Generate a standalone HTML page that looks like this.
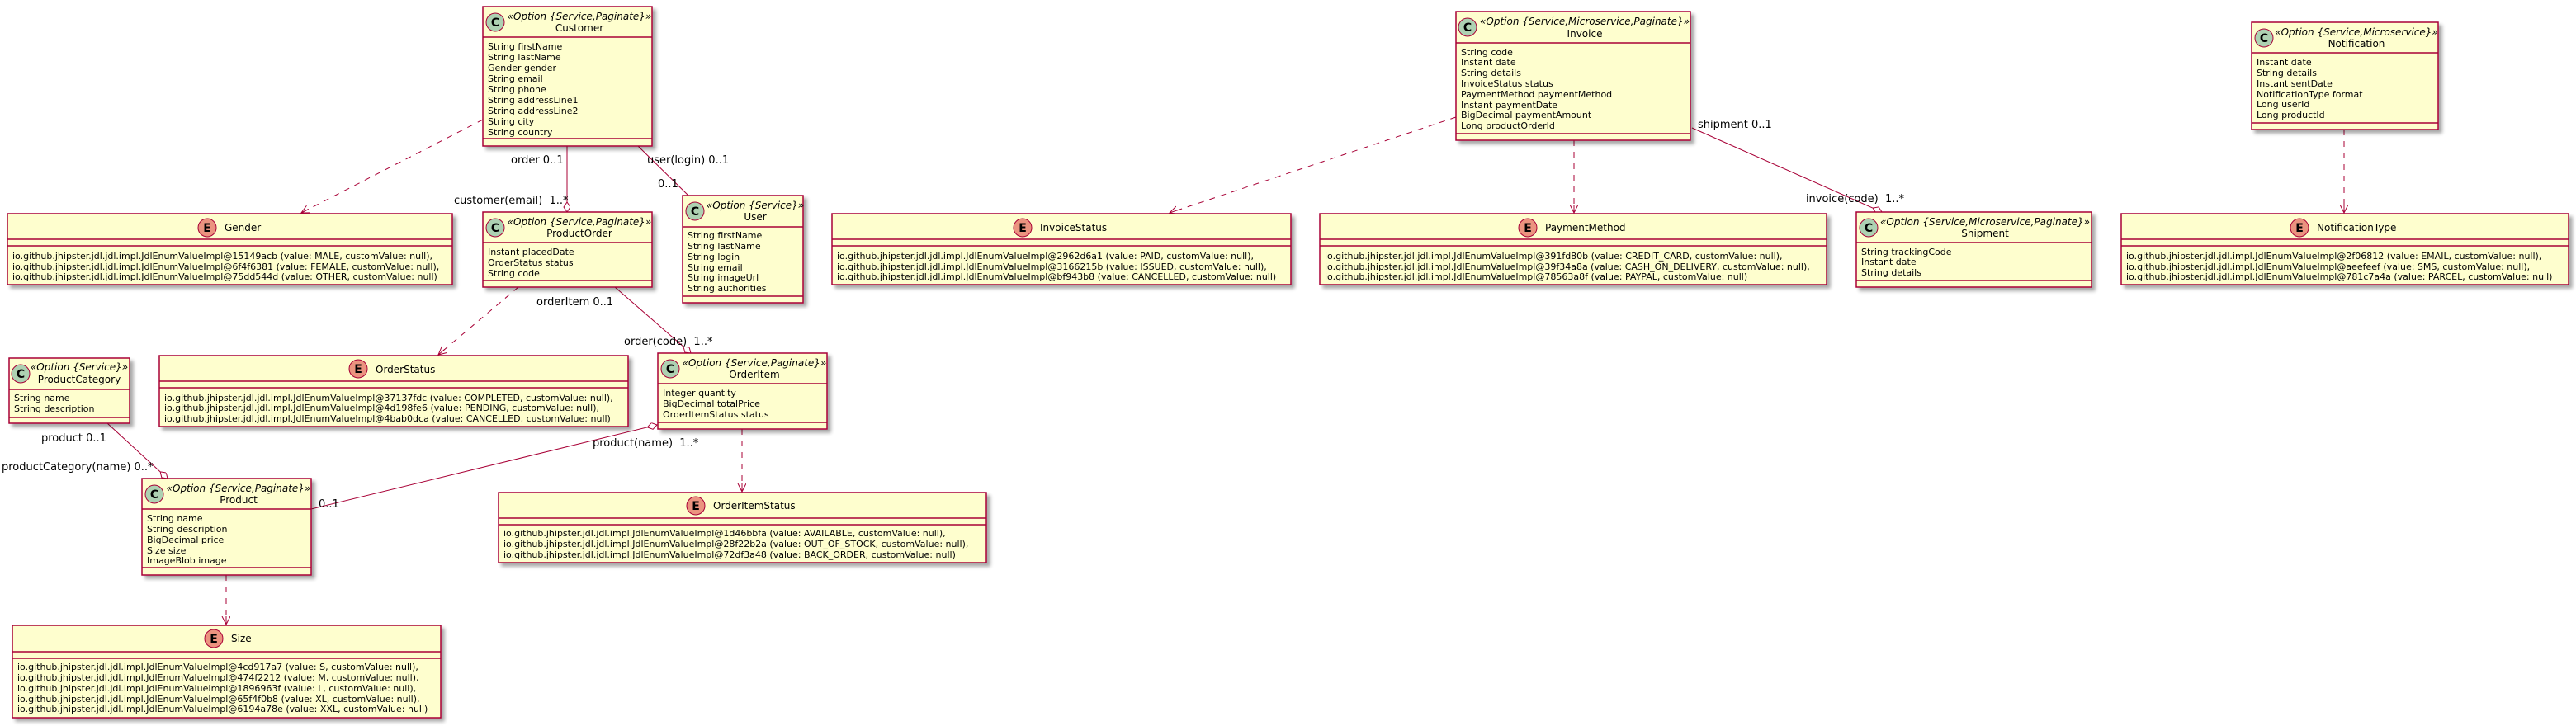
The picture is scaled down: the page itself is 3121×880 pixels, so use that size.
<!DOCTYPE html>
<html><head><meta charset="utf-8"><style>
html,body{margin:0;padding:0;background:#fff;}
svg{display:block;}
text{font-family:"DejaVu Sans","Liberation Sans",sans-serif;fill:#000;}
.a{font-size:11px;}
.st{font-size:12px;font-style:italic;}
.nm{font-size:12px;}
.lb{font-size:13px;}
.box{fill:#FEFECE;stroke:#A80036;stroke-width:1.5;}
.sep{stroke:#A80036;stroke-width:1.5;}
.ln{stroke:#A80036;stroke-width:1;fill:none;}
.dl{stroke:#A80036;stroke-width:1;fill:none;stroke-dasharray:7,7;}
.cc{fill:#ADD1B2;stroke:#A80036;stroke-width:1;}
.ec{fill:#EB937F;stroke:#A80036;stroke-width:1;}
.ct{font-size:14px;font-weight:bold;}
</style></head><body>
<svg width="3121" height="880" viewBox="0 0 3121 880" xmlns="http://www.w3.org/2000/svg">
<defs>
<filter id="sh" x="-10%" y="-10%" width="130%" height="130%"><feGaussianBlur in="SourceAlpha" stdDeviation="2"/><feOffset dx="4" dy="4" result="o"/><feComponentTransfer><feFuncA type="linear" slope="0.35"/></feComponentTransfer><feMerge><feMergeNode/><feMergeNode in="SourceGraphic"/></feMerge></filter>
<marker id="ar" markerWidth="12" markerHeight="12" refX="10" refY="5" orient="auto" markerUnits="userSpaceOnUse"><path d="M0,0 L10,5 L0,10 M10,5 L0,5" stroke="#A80036" fill="none" stroke-width="1"/></marker>
<marker id="dm" markerWidth="14" markerHeight="10" refX="12" refY="4" orient="auto" markerUnits="userSpaceOnUse"><path d="M0,4 L6,0 L12,4 L6,8 Z" fill="#fff" stroke="#A80036" stroke-width="1"/></marker>
</defs>

<path class="dl" d="M585,145 L365,258" marker-end="url(#ar)"/>
<path class="ln" d="M687,177 L687,257" marker-end="url(#dm)"/>
<path class="ln" d="M773,177 L834,237"/>
<path class="dl" d="M628,348 L531,430" marker-end="url(#ar)"/>
<path class="ln" d="M745,348 L837,428" marker-end="url(#dm)"/>
<path class="ln" d="M130,513 L203,580" marker-end="url(#dm)"/>
<path class="ln" d="M377,617 L796,515" marker-end="url(#dm)"/>
<path class="dl" d="M899,520 L899,596" marker-end="url(#ar)"/>
<path class="dl" d="M274,697 L274,757" marker-end="url(#ar)"/>
<path class="dl" d="M1764,142 L1417,258" marker-end="url(#ar)"/>
<path class="dl" d="M1907,170 L1907,258" marker-end="url(#ar)"/>
<path class="ln" d="M2050,155 L2280,257" marker-end="url(#dm)"/>
<path class="dl" d="M2840,157 L2840,258" marker-end="url(#ar)"/>

<text class="lb" x="619" y="198">order 0..1</text>
<text class="lb" x="550" y="247" xml:space="preserve">customer(email)  1..*</text>
<text class="lb" x="784" y="198">user(login) 0..1</text>
<text class="lb" x="797" y="227">0..1</text>
<text class="lb" x="650" y="370">orderItem 0..1</text>
<text class="lb" x="756" y="418" xml:space="preserve">order(code)  1..*</text>
<text class="lb" x="50" y="535">product 0..1</text>
<text class="lb" x="2" y="570">productCategory(name) 0..*</text>
<text class="lb" x="718" y="541" xml:space="preserve">product(name)  1..*</text>
<text class="lb" x="386" y="615">0..1</text>
<text class="lb" x="2057" y="155">shipment 0..1</text>
<text class="lb" x="2307" y="245" text-anchor="end" xml:space="preserve">invoice(code)  1..*</text>

<g filter="url(#sh)"><rect class="box" x="585" y="8" width="205" height="169"/></g>
<line class="sep" x1="585" y1="45" x2="790" y2="45"/><line class="sep" x1="585" y1="168" x2="790" y2="168"/>
<circle class="cc" cx="600" cy="27" r="11"/><text class="ct" x="600" y="32" text-anchor="middle">C</text>
<text class="st" x="702" y="24" text-anchor="middle">«Option {Service,Paginate}»</text>
<text class="nm" x="702" y="38" text-anchor="middle">Customer</text>
<text class="a" x="591" y="60">String firstName</text><text class="a" x="591" y="73">String lastName</text><text class="a" x="591" y="86">Gender gender</text><text class="a" x="591" y="99">String email</text><text class="a" x="591" y="112">String phone</text><text class="a" x="591" y="125">String addressLine1</text><text class="a" x="591" y="138">String addressLine2</text><text class="a" x="591" y="151">String city</text><text class="a" x="591" y="164">String country</text>

<g filter="url(#sh)"><rect class="box" x="585" y="257" width="205" height="91"/></g>
<line class="sep" x1="585" y1="294" x2="790" y2="294"/><line class="sep" x1="585" y1="340" x2="790" y2="340"/>
<circle class="cc" cx="600" cy="276" r="11"/><text class="ct" x="600" y="281" text-anchor="middle">C</text>
<text class="st" x="702" y="273" text-anchor="middle">«Option {Service,Paginate}»</text>
<text class="nm" x="702" y="287" text-anchor="middle">ProductOrder</text>
<text class="a" x="591" y="309">Instant placedDate</text><text class="a" x="591" y="322">OrderStatus status</text><text class="a" x="591" y="335">String code</text>

<g filter="url(#sh)"><rect class="box" x="827" y="237" width="146" height="130"/></g>
<line class="sep" x1="827" y1="275" x2="973" y2="275"/><line class="sep" x1="827" y1="359" x2="973" y2="359"/>
<circle class="cc" cx="842" cy="256" r="11"/><text class="ct" x="842" y="261" text-anchor="middle">C</text>
<text class="st" x="915" y="253" text-anchor="middle">«Option {Service}»</text>
<text class="nm" x="915" y="267" text-anchor="middle">User</text>
<text class="a" x="833" y="289">String firstName</text><text class="a" x="833" y="302">String lastName</text><text class="a" x="833" y="315">String login</text><text class="a" x="833" y="328">String email</text><text class="a" x="833" y="340">String imageUrl</text><text class="a" x="833" y="353">String authorities</text>

<g filter="url(#sh)"><rect class="box" x="11" y="434" width="146" height="79"/></g>
<line class="sep" x1="11" y1="472" x2="157" y2="472"/><line class="sep" x1="11" y1="506" x2="157" y2="506"/>
<circle class="cc" cx="25" cy="453" r="11"/><text class="ct" x="25" y="458" text-anchor="middle">C</text>
<text class="st" x="96" y="449" text-anchor="middle">«Option {Service}»</text>
<text class="nm" x="96" y="464" text-anchor="middle">ProductCategory</text>
<text class="a" x="17" y="486">String name</text><text class="a" x="17" y="499">String description</text>

<g filter="url(#sh)"><rect class="box" x="797" y="428" width="205" height="92"/></g>
<line class="sep" x1="797" y1="465" x2="1002" y2="465"/><line class="sep" x1="797" y1="512" x2="1002" y2="512"/>
<circle class="cc" cx="812" cy="447" r="11"/><text class="ct" x="812" y="452" text-anchor="middle">C</text>
<text class="st" x="914" y="444" text-anchor="middle">«Option {Service,Paginate}»</text>
<text class="nm" x="914" y="458" text-anchor="middle">OrderItem</text>
<text class="a" x="803" y="480">Integer quantity</text><text class="a" x="803" y="493">BigDecimal totalPrice</text><text class="a" x="803" y="506">OrderItemStatus status</text>

<g filter="url(#sh)"><rect class="box" x="172" y="580" width="205" height="117"/></g>
<line class="sep" x1="172" y1="617" x2="377" y2="617"/><line class="sep" x1="172" y1="688" x2="377" y2="688"/>
<circle class="cc" cx="187" cy="599" r="11"/><text class="ct" x="187" y="604" text-anchor="middle">C</text>
<text class="st" x="289" y="596" text-anchor="middle">«Option {Service,Paginate}»</text>
<text class="nm" x="289" y="610" text-anchor="middle">Product</text>
<text class="a" x="178" y="632">String name</text><text class="a" x="178" y="645">String description</text><text class="a" x="178" y="658">BigDecimal price</text><text class="a" x="178" y="671">Size size</text><text class="a" x="178" y="683">ImageBlob image</text>

<g filter="url(#sh)"><rect class="box" x="1764" y="14" width="284" height="156"/></g>
<line class="sep" x1="1764" y1="52" x2="2048" y2="52"/><line class="sep" x1="1764" y1="162" x2="2048" y2="162"/>
<circle class="cc" cx="1778" cy="33" r="11"/><text class="ct" x="1778" y="38" text-anchor="middle">C</text>
<text class="st" x="1920" y="30" text-anchor="middle">«Option {Service,Microservice,Paginate}»</text>
<text class="nm" x="1920" y="45" text-anchor="middle">Invoice</text>
<text class="a" x="1770" y="67">String code</text><text class="a" x="1770" y="79">Instant date</text><text class="a" x="1770" y="92">String details</text><text class="a" x="1770" y="105">InvoiceStatus status</text><text class="a" x="1770" y="118">PaymentMethod paymentMethod</text><text class="a" x="1770" y="131">Instant paymentDate</text><text class="a" x="1770" y="143">BigDecimal paymentAmount</text><text class="a" x="1770" y="156">Long productOrderId</text>

<g filter="url(#sh)"><rect class="box" x="2249" y="257" width="285" height="91"/></g>
<line class="sep" x1="2249" y1="294" x2="2534" y2="294"/><line class="sep" x1="2249" y1="340" x2="2534" y2="340"/>
<circle class="cc" cx="2264" cy="276" r="11"/><text class="ct" x="2264" y="281" text-anchor="middle">C</text>
<text class="st" x="2405" y="273" text-anchor="middle">«Option {Service,Microservice,Paginate}»</text>
<text class="nm" x="2405" y="287" text-anchor="middle">Shipment</text>
<text class="a" x="2255" y="309">String trackingCode</text><text class="a" x="2255" y="321">Instant date</text><text class="a" x="2255" y="334">String details</text>

<g filter="url(#sh)"><rect class="box" x="2728" y="27" width="226" height="130"/></g>
<line class="sep" x1="2728" y1="64" x2="2954" y2="64"/><line class="sep" x1="2728" y1="149" x2="2954" y2="149"/>
<circle class="cc" cx="2743" cy="46" r="11"/><text class="ct" x="2743" y="51" text-anchor="middle">C</text>
<text class="st" x="2855" y="43" text-anchor="middle">«Option {Service,Microservice}»</text>
<text class="nm" x="2855" y="57" text-anchor="middle">Notification</text>
<text class="a" x="2734" y="79">Instant date</text><text class="a" x="2734" y="92">String details</text><text class="a" x="2734" y="105">Instant sentDate</text><text class="a" x="2734" y="118">NotificationType format</text><text class="a" x="2734" y="130">Long userId</text><text class="a" x="2734" y="143">Long productId</text>

<g filter="url(#sh)"><rect class="box" x="9" y="259" width="539" height="86"/></g>
<line class="sep" x1="9" y1="290" x2="548" y2="290"/><line class="sep" x1="9" y1="298" x2="548" y2="298"/>
<circle class="ec" cx="251" cy="276" r="11"/><text class="ct" x="251" y="281" text-anchor="middle">E</text>
<text class="nm" x="272" y="280">Gender</text>
<text class="a" x="15" y="314">io.github.jhipster.jdl.jdl.impl.JdlEnumValueImpl@15149acb (value: MALE, customValue: null),</text>
<text class="a" x="15" y="327">io.github.jhipster.jdl.jdl.impl.JdlEnumValueImpl@6f4f6381 (value: FEMALE, customValue: null),</text>
<text class="a" x="15" y="339">io.github.jhipster.jdl.jdl.impl.JdlEnumValueImpl@75dd544d (value: OTHER, customValue: null)</text>

<g filter="url(#sh)"><rect class="box" x="1008" y="259" width="556" height="86"/></g>
<line class="sep" x1="1008" y1="290" x2="1564" y2="290"/><line class="sep" x1="1008" y1="298" x2="1564" y2="298"/>
<circle class="ec" cx="1239" cy="276" r="11"/><text class="ct" x="1239" y="281" text-anchor="middle">E</text>
<text class="nm" x="1260" y="280">InvoiceStatus</text>
<text class="a" x="1014" y="314">io.github.jhipster.jdl.jdl.impl.JdlEnumValueImpl@2962d6a1 (value: PAID, customValue: null),</text>
<text class="a" x="1014" y="327">io.github.jhipster.jdl.jdl.impl.JdlEnumValueImpl@3166215b (value: ISSUED, customValue: null),</text>
<text class="a" x="1014" y="339">io.github.jhipster.jdl.jdl.impl.JdlEnumValueImpl@bf943b8 (value: CANCELLED, customValue: null)</text>

<g filter="url(#sh)"><rect class="box" x="1599" y="259" width="614" height="86"/></g>
<line class="sep" x1="1599" y1="290" x2="2213" y2="290"/><line class="sep" x1="1599" y1="298" x2="2213" y2="298"/>
<circle class="ec" cx="1851" cy="276" r="11"/><text class="ct" x="1851" y="281" text-anchor="middle">E</text>
<text class="nm" x="1872" y="280">PaymentMethod</text>
<text class="a" x="1605" y="314">io.github.jhipster.jdl.jdl.impl.JdlEnumValueImpl@391fd80b (value: CREDIT_CARD, customValue: null),</text>
<text class="a" x="1605" y="327">io.github.jhipster.jdl.jdl.impl.JdlEnumValueImpl@39f34a8a (value: CASH_ON_DELIVERY, customValue: null),</text>
<text class="a" x="1605" y="339">io.github.jhipster.jdl.jdl.impl.JdlEnumValueImpl@78563a8f (value: PAYPAL, customValue: null)</text>

<g filter="url(#sh)"><rect class="box" x="2570" y="259" width="542" height="86"/></g>
<line class="sep" x1="2570" y1="290" x2="3112" y2="290"/><line class="sep" x1="2570" y1="298" x2="3112" y2="298"/>
<circle class="ec" cx="2786" cy="276" r="11"/><text class="ct" x="2786" y="281" text-anchor="middle">E</text>
<text class="nm" x="2807" y="280">NotificationType</text>
<text class="a" x="2576" y="314">io.github.jhipster.jdl.jdl.impl.JdlEnumValueImpl@2f06812 (value: EMAIL, customValue: null),</text>
<text class="a" x="2576" y="327">io.github.jhipster.jdl.jdl.impl.JdlEnumValueImpl@aeefeef (value: SMS, customValue: null),</text>
<text class="a" x="2576" y="339">io.github.jhipster.jdl.jdl.impl.JdlEnumValueImpl@781c7a4a (value: PARCEL, customValue: null)</text>

<g filter="url(#sh)"><rect class="box" x="193" y="431" width="568" height="86"/></g>
<line class="sep" x1="193" y1="462" x2="761" y2="462"/><line class="sep" x1="193" y1="470" x2="761" y2="470"/>
<circle class="ec" cx="434" cy="447" r="11"/><text class="ct" x="434" y="452" text-anchor="middle">E</text>
<text class="nm" x="455" y="452">OrderStatus</text>
<text class="a" x="199" y="486">io.github.jhipster.jdl.jdl.impl.JdlEnumValueImpl@37137fdc (value: COMPLETED, customValue: null),</text>
<text class="a" x="199" y="498">io.github.jhipster.jdl.jdl.impl.JdlEnumValueImpl@4d198fe6 (value: PENDING, customValue: null),</text>
<text class="a" x="199" y="511">io.github.jhipster.jdl.jdl.impl.JdlEnumValueImpl@4bab0dca (value: CANCELLED, customValue: null)</text>

<g filter="url(#sh)"><rect class="box" x="604" y="597" width="591" height="85"/></g>
<line class="sep" x1="604" y1="628" x2="1195" y2="628"/><line class="sep" x1="604" y1="636" x2="1195" y2="636"/>
<circle class="ec" cx="843" cy="613" r="11"/><text class="ct" x="843" y="618" text-anchor="middle">E</text>
<text class="nm" x="864" y="617">OrderItemStatus</text>
<text class="a" x="610" y="650">io.github.jhipster.jdl.jdl.impl.JdlEnumValueImpl@1d46bbfa (value: AVAILABLE, customValue: null),</text>
<text class="a" x="610" y="663">io.github.jhipster.jdl.jdl.impl.JdlEnumValueImpl@28f22b2a (value: OUT_OF_STOCK, customValue: null),</text>
<text class="a" x="610" y="676">io.github.jhipster.jdl.jdl.impl.JdlEnumValueImpl@72df3a48 (value: BACK_ORDER, customValue: null)</text>

<g filter="url(#sh)"><rect class="box" x="15" y="758" width="519" height="112"/></g>
<line class="sep" x1="15" y1="790" x2="534" y2="790"/><line class="sep" x1="15" y1="798" x2="534" y2="798"/>
<circle class="ec" cx="259" cy="774" r="11"/><text class="ct" x="259" y="779" text-anchor="middle">E</text>
<text class="nm" x="280" y="778">Size</text>
<text class="a" x="21" y="812">io.github.jhipster.jdl.jdl.impl.JdlEnumValueImpl@4cd917a7 (value: S, customValue: null),</text>
<text class="a" x="21" y="825">io.github.jhipster.jdl.jdl.impl.JdlEnumValueImpl@474f2212 (value: M, customValue: null),</text>
<text class="a" x="21" y="838">io.github.jhipster.jdl.jdl.impl.JdlEnumValueImpl@1896963f (value: L, customValue: null),</text>
<text class="a" x="21" y="851">io.github.jhipster.jdl.jdl.impl.JdlEnumValueImpl@65f4f0b8 (value: XL, customValue: null),</text>
<text class="a" x="21" y="863">io.github.jhipster.jdl.jdl.impl.JdlEnumValueImpl@6194a78e (value: XXL, customValue: null)</text>
</svg>
</body></html>
